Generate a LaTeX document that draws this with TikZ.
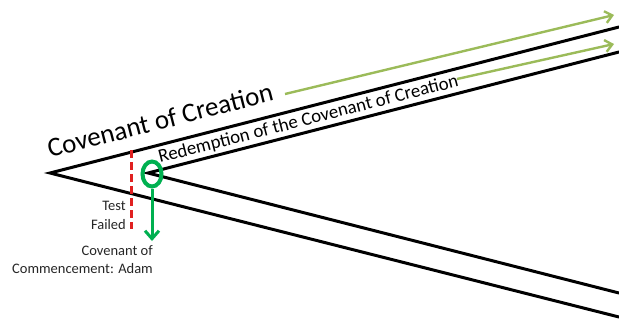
\documentclass[tikz,border=0pt]{standalone}
\usepackage{fontspec}
\setmainfont{Carlito}
\usetikzlibrary{arrows.meta,shapes.geometric}
\definecolor{lgreen}{HTML}{9BBB59}
\definecolor{dgreen}{HTML}{00B050}
\definecolor{dred}{HTML}{E02020}
\begin{document}
\begin{tikzpicture}[x=1pt,y=-1pt,
  bl/.style={line width=3pt,line cap=round},
  garrow/.style={draw=lgreen,line width=2.4pt,-{Straight Barb[length=7pt,width=12pt]}},
  lbl/.style={inner sep=0pt,font=\fontsize{14.5}{17}\selectfont,text=black!85}]
\useasboundingbox (0,0) rectangle (619,322);
\coordinate (ov) at (50,173);
\coordinate (iv) at (148,173);
\coordinate (ou) at (619,27);
\coordinate (iu) at (619,52);
\coordinate (ol) at (619,317);
\coordinate (il) at (619,293);
\draw[bl] (ou) -- (ov) -- (ol);
\draw[bl] (iu) -- (iv) -- (il);
\node[inner sep=0pt,anchor=base west,rotate=14.4,font=\fontsize{27}{31}\selectfont] (coc) at (50,158) {Covenant of Creation};
\node[inner sep=0pt,anchor=base west,rotate=14.4,font=\fontsize{18.8}{22}\selectfont] (red) at (160,163) {Redemption of the Covenant of Creation};
\coordinate (g1s) at (285,94);
\coordinate (g1e) at (614,15);
\coordinate (g2s) at (457,79);
\coordinate (g2e) at (614,44);
\draw[garrow] (g1s) -- (g1e);
\draw[garrow] (g2s) -- (g2e);
\coordinate (rt) at (131,150);
\coordinate (rb) at (131,229);
\draw[dred,line width=3pt,dash pattern=on 8pt off 4pt] (rt) -- (rb);
\node[draw=dgreen,line width=4pt,ellipse,minimum width=19pt,minimum height=25pt,inner sep=0pt] (circ) at (152,174) {};
\coordinate (ae) at (152,241);
\draw[draw=dgreen,line width=3pt,-{Straight Barb[length=8pt,width=14pt]}] (circ.south) -- (ae);
\node[lbl,anchor=base east] (test) at (126,210) {Test};
\node[lbl,anchor=base east] (fail) at (126,229) {Failed};
\node[lbl,anchor=base east] (cov) at (153,255) {Covenant of};
\node[lbl,anchor=base east] (comm) at (153,273) {Commencement: Adam};
\end{tikzpicture}
\end{document}
